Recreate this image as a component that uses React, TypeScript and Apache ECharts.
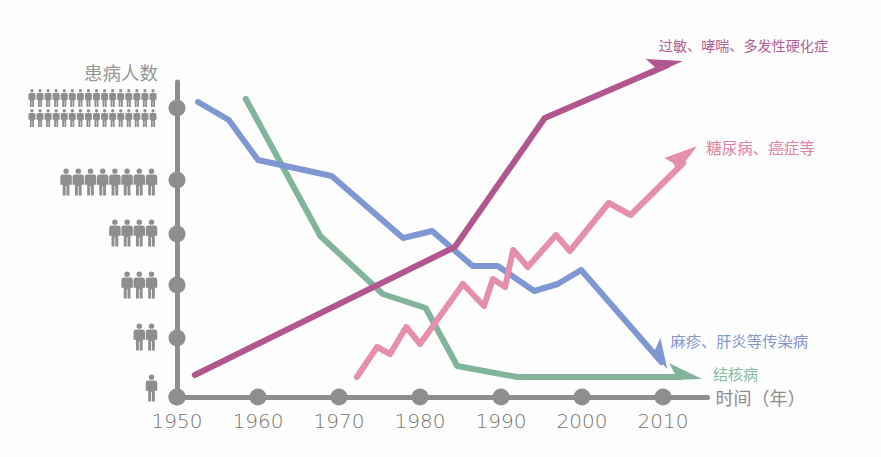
import React, { useEffect, useRef } from "react";
import * as echarts from "echarts";

const xTicks = [1950, 1960, 1970, 1980, 1990, 2000, 2010];
const yTicks = [0, 59, 112, 163, 217, 289];

const blueData = [[1952.6,295],[1956.4,277],[1960,237],[1969.1,221],[1977.9,159],[1981.5,166],[1986.5,131],[1989.6,131],[1994.1,106],[1997,113],[1999.9,127],[2009.8,35]];
const greenData = [[1958.5,298],[1967.7,161],[1975.4,103],[1980.7,89],[1984.6,31],[1992,20],[2012.1,20]];
const purpleData = [[1952.2,22],[1984.3,150],[1995.4,279],[2010.6,332]];
const pinkData = [[1972.2,20],[1974.7,50],[1976.3,43],[1978.3,70],[1980,53],[1985.3,113],[1987.9,91],[1989,118],[1990.5,110],[1991.5,147],[1993.3,130],[1996.8,162],[1998.5,146],[2003.3,194],[2006,182],[2012.5,234]];

const blueName = "麻疹、肝炎等传染病";
const greenName = "结核病";
const purpleName = "过敏、哮喘、多发性硬化症";
const pinkName = "糖尿病、癌症等";

const peopleCounts = [16, 16, 8, 4, 3, 2, 1];
const peopleLevels = [299, 279, 215, 164, 112, 60, 9];

const PERSON = "path://M6 0.5a2.6 2.6 0 1 1 0 5.2a2.6 2.6 0 1 1 0-5.2z M2.5 6.5H9.5Q11.5 6.5 11.5 9V16.5H9.2V27H6.4V18H5.6V27H2.8V16.5H0.5V9Q0.5 6.5 2.5 6.5Z";
const GREY = "#8f8d8f";
const FONT = '"Noto Sans CJK SC", sans-serif';

function arrowLine(name: string, data: number[][], color: string, textColor: string, fontSize: number,
  head: string, headSize: number[], headOffset: number[], labelOffset: number[]) {
  const last = data.length - 1;
  return {
    type: "line", name, clip: false, silent: true, showSymbol: true, symbol: "none",
    lineStyle: { color, width: 6, cap: "round", join: "round" },
    itemStyle: { color },
    data: data.map((d, i) => i === last
      ? { value: d, symbol: "path://" + head, symbolSize: headSize, symbolOffset: headOffset }
      : { value: d }),
    endLabel: { show: true, formatter: name, color: textColor, fontSize, fontFamily: FONT, distance: 0, align: "left", verticalAlign: "middle", offset: labelOffset },
  };
}

function peopleSeries(rows: number[], size: number[], gap: number, right: number) {
  const data: number[][] = [];
  rows.forEach((r) => {
    for (let i = 0; i < peopleCounts[r]; i++) data.push([right - 20 - i * gap, peopleLevels[r]]);
  });
  return { type: "scatter", xAxisIndex: 1, yAxisIndex: 1, clip: false, silent: true, symbol: PERSON, symbolSize: size, itemStyle: { color: GREY, opacity: 1 }, data };
}

export default function App() {
  const ref = useRef<HTMLDivElement>(null);
  useEffect(() => {
    const chart = echarts.init(ref.current!, undefined, { renderer: "svg" });
    chart.setOption({
      animation: false,
      backgroundColor: "#fefefe",
      grid: [
        { left: 177, top: 82, width: 530.55, height: 315 },
        { left: 20, top: 82, width: 157, height: 315 },
      ],
      xAxis: [
        {
          type: "value", gridIndex: 0, min: 1950, max: 2015.5, splitLine: { show: false },
          axisLine: { show: true, onZero: false, lineStyle: { color: GREY, width: 5, cap: "round" } },
          axisTick: { show: false },
          axisLabel: { margin: 14, color: "#77716f", fontSize: 20, fontFamily: '"DejaVu Sans Light", "DejaVu Sans"', customValues: xTicks, formatter: (v: number) => String(v) },
          name: "时间（年）", nameLocation: "end", nameGap: 8,
          nameTextStyle: { color: "#8f8a88", fontSize: 18, fontFamily: FONT, padding: [6, 0, 0, 0] },
        },
        { type: "value", gridIndex: 1, min: 0, max: 157, show: false },
      ],
      yAxis: [
        {
          type: "value", gridIndex: 0, min: 0, max: 315, splitLine: { show: false },
          axisLine: { show: true, onZero: false, lineStyle: { color: GREY, width: 5, cap: "round" } },
          axisTick: { show: false }, axisLabel: { show: false },
          name: "患病人数", nameLocation: "end", nameGap: 10,
          nameTextStyle: { color: "#969696", fontSize: 18.5, fontFamily: FONT, align: "right", verticalAlign: "middle", padding: [0, 19, 0, 0] },
        },
        { type: "value", gridIndex: 1, min: 0, max: 315, show: false },
      ],
      series: [
        peopleSeries([0, 1], [7, 18], 8.07, 153),
        peopleSeries([2, 3, 4, 5, 6], [11.5, 27], 12.2, 151.5),
        { type: "scatter", clip: false, silent: true, symbolSize: 17, itemStyle: { color: GREY, opacity: 1 }, data: xTicks.map((x) => [x, 0]) },
        { type: "scatter", clip: false, silent: true, symbolSize: 17, itemStyle: { color: GREY, opacity: 1 }, data: yTicks.map((y) => [1950, y]) },
        arrowLine(greenName, greenData, "#82b49b", "#85b9a2", 15, "M33 16L0 0L6 11L1 17Z", [33, 17], [5.5, -5.5], [33, -4]),
        arrowLine(blueName, blueData, "#7f97d2", "#8496cd", 15.3, "M15 31L8 0L2 13L0 15Z", [15, 31], [-1.5, -8.5], [9, -22]),
        arrowLine(purpleName, purpleData, "#b1568f", "#ae5f96", 14.1, "M37 2L0 0L9 8L4 17Z", [37, 17], [-3.5, 2.5], [-9, -20]),
        arrowLine(pinkName, pinkData, "#e58fac", "#dc84a6", 15.5, "M33 0L0 12L9 17L13 26Z", [33, 26], [-2.5, -4], [23, -16]),
      ],
    });
    return () => chart.dispose();
  }, []);
  return <div ref={ref} style={{ position: "fixed", left: 0, top: 0, width: 881, height: 457 }} />;
}
